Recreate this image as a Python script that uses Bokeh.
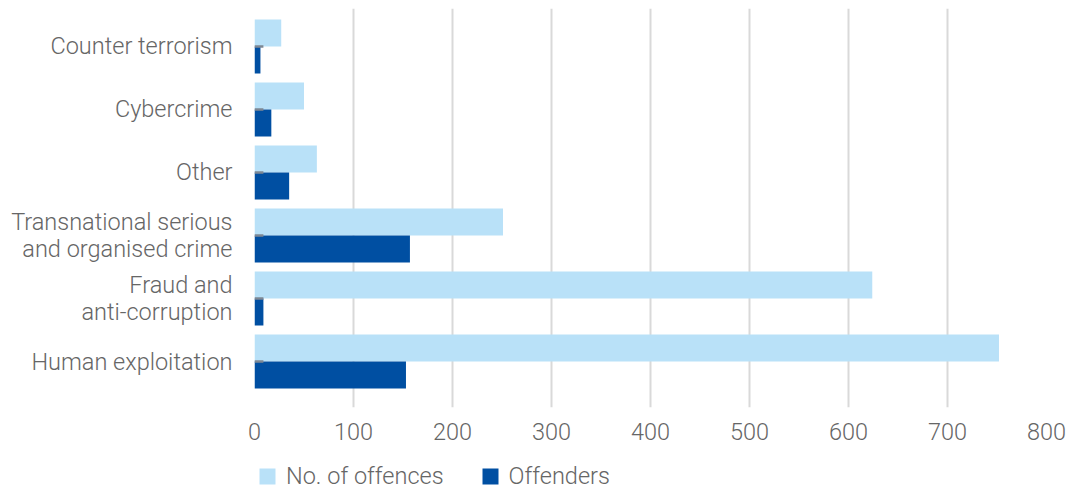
from bokeh.plotting import figure
from bokeh.layouts import column
from bokeh.models import ColumnDataSource, Range1d, FixedTicker, Legend, LegendItem
from bokeh.embed import file_html
from bokeh.resources import INLINE

categories = ["Human exploitation", "Fraud and\nanti-corruption",
              "Transnational serious\nand organised crime", "Other",
              "Cybercrime", "Counter terrorism"]
offences = [752, 624, 251, 63, 50, 27]
offenders = [153, 9, 157, 35, 17, 6]
marker = [9, 9, 9, 9, 9, 9]
x_ticks = [0, 100, 200, 300, 400, 500, 600, 700, 800]

FONT = "Roboto Light"
TXT = "#666666"
LIGHT = "#b9e1f8"
DARK = "#004fa2"

pos = list(range(len(categories)))
BAR_H = 0.4286
src = ColumnDataSource(dict(
    y_off=[p + BAR_H / 2 for p in pos],
    y_ofr=[p - BAR_H / 2 for p in pos],
    y_mk=pos,
    offences=offences, offenders=offenders, marker=marker))

p = figure(width=1072, height=451, output_backend="svg", toolbar_location=None,
           x_range=Range1d(0, 800), y_range=Range1d(-0.73, 5.603),
           min_border_left=254, min_border_right=26, min_border_top=8,
           min_border_bottom=44)
p.outline_line_color = None
p.background_fill_color = "white"

p.hbar(y="y_off", right="offences", left=0, height=BAR_H, source=src,
       fill_color=LIGHT, line_color=None)
p.hbar(y="y_ofr", right="offenders", left=0, height=BAR_H, source=src,
       fill_color=DARK, line_color=None)
p.hbar(y="y_mk", right="marker", left=0, height=0.043, source=src,
       fill_color="#7d8794", line_color=None)

p.xaxis.ticker = FixedTicker(ticks=x_ticks)
p.yaxis.ticker = FixedTicker(ticks=pos)
p.yaxis.major_label_overrides = {i: c for i, c in enumerate(categories)}
for ax in (p.xaxis[0], p.yaxis[0]):
    ax.axis_line_color = None
    ax.major_tick_line_color = None
    ax.minor_tick_line_color = None
    ax.major_label_text_font = FONT
    ax.major_label_text_font_size = "23.5px"
    ax.major_label_text_color = TXT
    ax.major_label_text_line_height = 0.95
p.xaxis.major_label_standoff = 9
p.yaxis.major_label_standoff = 16

p.ygrid.grid_line_color = None
p.xgrid.grid_line_color = "#d9d9d9"
p.xgrid.grid_line_width = 2

# legend strip below the chart
lg = figure(width=1072, height=40, output_backend="svg", toolbar_location=None,
            x_range=Range1d(2000, 3000), y_range=Range1d(100, 101),
            min_border=0, x_axis_location=None, y_axis_location=None)
lg.outline_line_color = None
lg.background_fill_color = "white"
lg.border_fill_color = "white"
lg.xgrid.visible = False
lg.ygrid.visible = False
l1 = lg.hbar(y="y_off", right="offences", left=0, height=BAR_H, source=src,
             fill_color=LIGHT, line_color=None)
l2 = lg.hbar(y="y_ofr", right="offenders", left=0, height=BAR_H, source=src,
             fill_color=DARK, line_color=None)
legend = Legend(items=[LegendItem(label="No. of offences", renderers=[l1]),
                       LegendItem(label="Offenders", renderers=[l2])],
                orientation="horizontal", location=(3, 1),
                glyph_width=20, glyph_height=20, label_standoff=9, spacing=36,
                padding=0, margin=0, border_line_color=None,
                background_fill_alpha=0,
                label_text_font=FONT, label_text_font_size="23.5px",
                label_text_color=TXT)
lg.add_layout(legend, "center")

layout = column(p, lg, spacing=0)
open("out.html", "w").write(file_html(layout, INLINE))
